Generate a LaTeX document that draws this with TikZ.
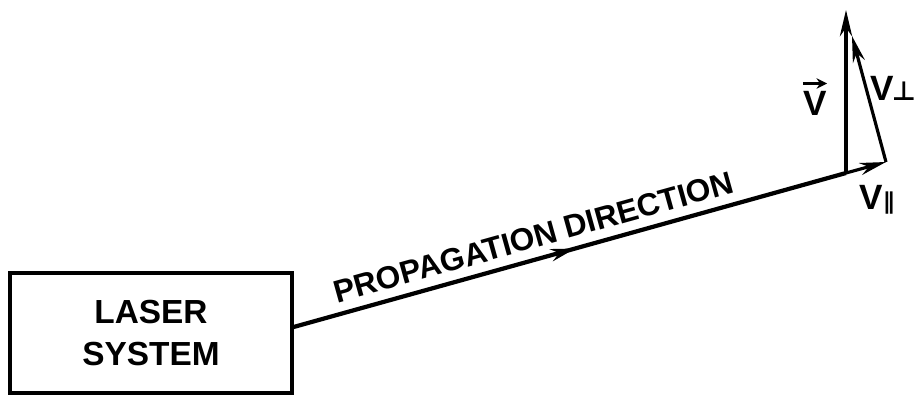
\documentclass[tikz,border=0pt]{standalone}
\usepackage{fontspec}
\setmainfont{Liberation Sans}
\newfontfamily\symfont{DejaVu Sans}
\usetikzlibrary{arrows.meta,decorations.markings}
\begin{document}
\begin{tikzpicture}[x=0.02cm,y=-0.02cm,
  boxst/.style={draw,line width=1.8pt,minimum width=5.64cm,minimum height=2.4cm,align=center,font=\fontsize{19}{24}\selectfont\bfseries},
  beam/.style={line width=2.4pt},
  vec/.style={line width=1.8pt,-{Stealth[length=15pt,width=7pt]}},
  lbl/.style={font=\fontsize{20}{22}\selectfont\bfseries,inner sep=0pt}]
\useasboundingbox (0,0) rectangle (917,395);
\node[boxst] (box) at (151,333) {LASER\\[0pt]SYSTEM};
\coordinate (O) at (846,173);
\coordinate (Vt) at (846,10);
\coordinate (Pa) at (886,162);
\coordinate (Pe) at (852,36);
\draw[beam,postaction={decorate},decoration={markings,mark=at position 0.51 with {\arrow{Stealth[length=14pt,width=7pt]}}}]
  ([yshift=3.4pt]box.east) -- (O)
  node[pos=0.445,above=5pt,sloped,inner sep=0pt,font=\fontsize{18}{20}\selectfont\bfseries] (pd) {PROPAGATION DIRECTION};
\draw[vec] (O) -- (Vt);
\draw[vec] (O) -- (Pa);
\draw[vec] (Pa) -- (Pe);
\node[lbl] (vlab) at (815,103) {V};
\draw[line width=1.6pt,-{Stealth[length=6pt,width=6pt]}] ([yshift=4pt]vlab.north west) -- ([yshift=4pt]vlab.north east);
\node[lbl] (vperp) at (893,88) {V\kern-1pt{\symfont\fontsize{15}{16}\selectfont\bfseries ⊥}};
\node[lbl] (vpar) at (877,200) {V{\symfont\fontsize{13}{14}\selectfont\bfseries ∥}};
\end{tikzpicture}
\end{document}
